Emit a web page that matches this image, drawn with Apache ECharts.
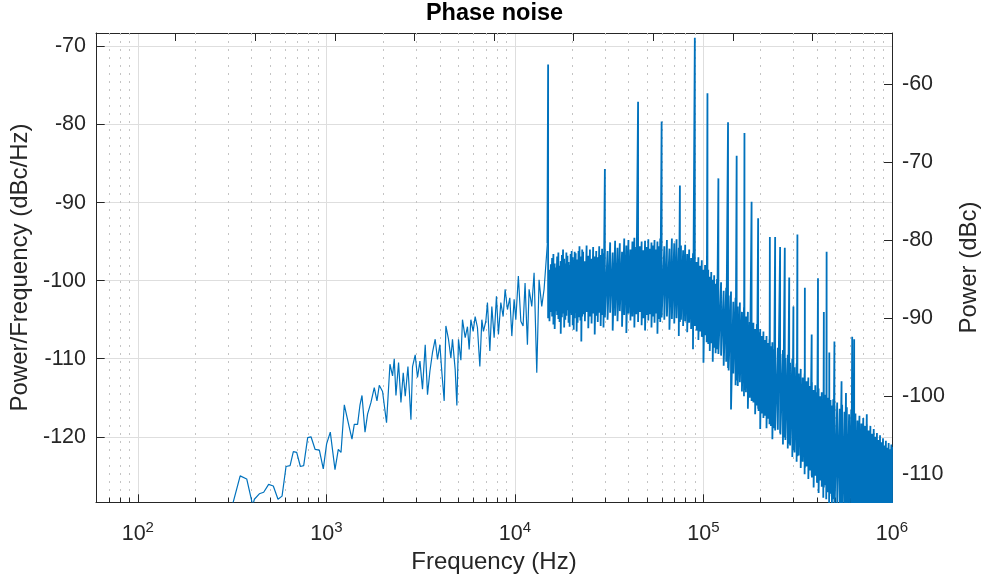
<!DOCTYPE html>
<html><head><meta charset="utf-8">
<script src="https://cdn.jsdelivr.net/npm/echarts@6/dist/echarts.min.js"></script>
<style>html,body{margin:0;padding:0;background:#fff}#c{width:989px;height:582px}</style>
</head><body><div id="c"></div>
<script>
// ---- data ----
// sparse low-frequency part: frequency (Hz) and PSD (dBc/Hz)
const sparseFreq = [300,349,378,407,415,441,465,494,523,554,582,611,642,668,696,728,758,796,829,871,918,963,
1003,1049,1111,1157,1196,1245,1323,1367,1406,1464,1508,1545,1603,1654,1724,1795,1855,1908,1986,
2085,2174,2244,2291,2339,2415,2486,2557,2620,2708,2809,2864,2959,3043,3135,3235,3344,3439,3541,3655,3777,3885,
4000,4099,4216,4304,4443,4575,4665,4822,4922,5020,5169,5271,5448,5602,5720,5840,6005,6153,6328,6516,6677,6809,
7011,7150,7362,7544,7759,7980,8177,8419,8660,8874,9127,9397,9630,9903,10110,10430,10750,11050,11320,11650,11890,
12290,12640,13060,13430,13880,14280,14870];
const sparseVal = [-131.0,-125.0,-125.4,-128.8,-128.0,-127.3,-127.1,-126.1,-126.3,-128.0,-127.6,-123.8,-123.7,-121.9,-122.0,-123.8,-123.7,-120.1,-120.0,-121.6,-121.7,-124.1,
-120.9,-119.4,-124.2,-121.6,-122.0,-115.9,-118.8,-120.3,-118.4,-118.4,-115.9,-114.7,-119.4,-117.1,-115.6,-113.7,-115.4,-113.4,-114.2,
-118.2,-110.7,-112.2,-110.0,-114.7,-110.5,-115.6,-111.8,-114.8,-111.0,-117.8,-111.0,-109.5,-112.4,-110.3,-113.9,-108.2,-114.6,-111.6,-109.2,-107.5,-110.1,
-108.2,-111.8,-115.4,-105.8,-107.5,-109.9,-107.5,-111.4,-116.0,-107.5,-110.2,-105.0,-107.3,-105.9,-108.8,-105.0,-106.5,-104.6,-106.0,-111.0,-105.0,-106.5,
-105.2,-102.8,-109.0,-103.3,-107.3,-102.0,-106.9,-102.8,-104.6,-101.1,-103.7,-102.2,-107.1,-102.4,-105.0,-99.4,-105.2,-105.8,-100.3,-108.2,-101.1,
-103.3,-99.0,-111.8,-99.9,-103.3,-101.1,-95.2];

// dense high-frequency part: frequency (kHz), upper and lower extent of the noise band (dBc/Hz)
const bandFreqK = [
15.0,15.25,15.5,15.75,16.0,16.25,16.5,16.75,17.0,17.25,17.5,17.75,18.0,18.25,18.5,18.75,19.0,19.25,19.5,19.75,20.0,20.25,20.5,20.75,21.0,21.25,21.5,21.75,22.0,22.25,22.5,22.75,
23.0,23.5,24.0,24.5,25.0,25.5,26.0,26.5,27.0,27.5,28.0,28.5,29.0,29.5,30.0,
31,32,33,34,35,36,37,38,39,40,41,42,43,44,45,46,47,48,49,50,51,52,53,54,55,56,57,58,59,60,
62,64,66,68,70,72,74,75,76,78,80,82,84,86,88,90,92,94,96,98,100,102,104,105,106,108,110,112,114,116,118,120,
124,128,132,135,136,140,144,148,150,152,156,160,164,165,168,172,176,180,184,188,192,195,196,200,204,208,212,216,220,224,225,228,232,236,240,
248,255,256,264,270,272,280,285,288,296,300,304,312,315,320,328,336,344,345,352,360,368,375,376,384,392,400,405,408,416,424,432,435,440,448,450,456,464,465,472,480,
488,495,496,512,528,540,544,560,570,576,592,608,615,624,630,640,656,672,688,704,720,735,736,752,768,784,800,816,832,848,864,880,896,912,928,944,960,976,992,1000];
const bandHi = [
-72.3,-98.6,-97.9,-97.1,-96.6,-97.8,-98.3,-96.9,-96.4,-98.1,-97.5,-96.7,-96.0,-97.2,-97.8,-96.4,-96.8,-97.6,-98.0,-96.6,-96.2,-97.0,-97.4,-96.3,-96.5,-97.3,-97.6,-96.2,-95.6,-97.1,-96.9,-96.0,
-96.3,-97.5,-95.5,-96.8,-96.0,-97.2,-95.7,-96.9,-96.2,-97.0,-95.6,-96.7,-95.9,-96.5,-85.7,
-96.2,-95.1,-96.4,-94.9,-95.8,-95.2,-96.3,-94.6,-95.5,-94.8,-96.0,-95.0,-94.5,-95.7,-77.1,-95.6,-95.0,-96.1,-94.9,-95.7,-94.7,-95.9,-95.1,-95.5,-94.8,-96.0,-95.0,-95.6,-94.6,-79.6,
-95.6,-94.8,-95.9,-94.6,-95.2,-94.7,-95.8,-87.8,-95.5,-96.1,-95.4,-96.6,-96.0,-97.1,-96.5,-68.9,-97.6,-97.0,-98.1,-97.4,-98.6,-98.0,-99.0,-76.0,-98.6,-99.5,-98.9,-99.9,-99.3,-100.4,-99.8,-86.9,
-100.2,-101.3,-100.9,-79.7,-101.9,-101.4,-102.7,-102.2,-84.0,-103.3,-102.8,-104.0,-103.4,-81.1,-104.6,-104.0,-105.3,-89.9,-105.4,-106.2,-105.6,-92.0,-106.6,-106.2,-107.1,-106.5,-107.6,-107.1,-108.0,-107.5,-94.4,-108.4,-107.9,-108.8,-94.4,
-108.6,-95.7,-109.4,-108.9,-95.8,-109.9,-109.5,-99.6,-110.5,-110.0,-103.3,-111.1,-110.6,-94.1,-111.9,-111.3,-112.4,-111.9,-100.9,-112.9,-112.4,-113.5,-106.9,-113.0,-114.0,-113.4,-114.3,-99.7,-113.8,-114.8,-114.3,-115.2,-104.0,-114.6,-115.4,-96.3,-115.0,-115.8,-109.2,-115.3,-116.0,
-115.2,-107.8,-116.0,-115.6,-116.4,-112.9,-115.9,-116.8,-114.4,-116.2,-117.1,-116.6,-107.2,-117.5,-107.5,-117.0,-117.9,-117.3,-118.3,-117.6,-118.6,-117.1,-118.4,-119.2,-118.6,-119.6,-119.0,-120.0,-119.5,-120.4,-119.8,-120.7,-120.2,-121.1,-120.5,-121.4,-120.8,-121.6,-121.0,-121.3];
const bandLo = [
-104.8,-105.2,-104.0,-104.6,-105.6,-106.2,-103.9,-104.4,-104.9,-105.3,-106.8,-104.7,-104.2,-106.0,-105.0,-104.5,-103.8,-105.4,-105.9,-104.1,-104.4,-105.7,-106.3,-104.8,-104.1,-106.5,-105.4,-104.3,-104.7,-105.1,-107.8,-104.6,
-104.3,-105.2,-104.0,-106.1,-104.6,-105.5,-104.2,-106.9,-104.5,-105.3,-104.1,-105.8,-104.4,-106.0,-104.7,
-105.0,-104.1,-106.4,-104.5,-105.2,-103.9,-105.9,-104.4,-106.7,-104.2,-105.1,-104.6,-106.0,-104.3,-105.3,-104.0,-105.7,-104.8,-106.4,-104.4,-105.1,-104.3,-106.0,-104.6,-105.4,-104.2,-106.8,-104.9,-105.3,-104.7,
-105.0,-104.6,-106.3,-104.9,-105.5,-104.8,-107.1,-105.3,-105.0,-105.8,-105.2,-106.6,-105.4,-106.2,-108.8,-105.8,-106.4,-107.6,-106.5,-107.2,-110.5,-107.0,-107.9,-107.3,-108.1,-109.0,-108.0,-110.4,-108.6,-109.3,-108.8,-109.4,
-109.6,-110.9,-110.4,-111.2,-111.5,-116.5,-111.9,-113.4,-112.8,-113.5,-113.0,-114.2,-114.8,-114.0,-114.3,-116.4,-115.0,-115.4,-115.6,-117.1,-116.0,-116.4,-116.7,-119.0,-117.0,-117.6,-117.3,-118.9,-117.7,-118.4,-118.1,-118.6,-120.3,-118.9,-119.2,
-119.1,-119.5,-119.7,-121.0,-120.1,-120.4,-121.5,-120.9,-121.1,-122.6,-121.7,-122.0,-123.2,-122.5,-122.4,-124.0,-123.2,-124.8,-124.0,-123.8,-125.4,-124.3,-125.0,-125.2,-126.5,-125.0,-125.9,-125.3,-127.2,-125.6,-126.4,-127.8,-126.5,-126.2,-128.0,-126.9,-127.1,-128.6,-127.6,-127.3,-128.8,
-128.0,-128.9,-129.2,-128.6,-130.0,-129.0,-130.5,-130.0,-130.5,-131.0,-130.0,-131.0,-130.0,-131.0,-130.0,-131.0,-130.0,-131.0,-130.0,-131.0,-130.0,-131.0,-130.0,-131.0,-130.0,-131.0,-130.0,-131.0,-130.0,-131.0,-130.0,-131.0,-130.0,-131.0,-130.0,-131.0,-130.0,-131.0,-130.0,-131.0];

// axes
const xTickExps = [2, 3, 4, 5, 6];
const minorMult = [2, 3, 4, 5, 6, 7, 8, 9];
const minorDecades = [10, 100, 1000, 10000, 100000];
const leftTicks = [-120, -110, -100, -90, -80, -70];
const rightTicks = [-110, -100, -90, -80, -70, -60];

if (sparseFreq.length !== sparseVal.length) throw new Error('sparse mismatch ' + sparseFreq.length + ' ' + sparseVal.length);
if (bandFreqK.length !== bandHi.length || bandFreqK.length !== bandLo.length)
  throw new Error('band mismatch ' + bandFreqK.length + ' ' + bandHi.length + ' ' + bandLo.length);

const sparseData = [];
for (let i = 0; i < sparseFreq.length; i++) sparseData.push([sparseFreq[i], sparseVal[i]]);
// dense part continues the same trace from the last sparse reading
const bandData = [[sparseFreq[sparseFreq.length - 1], sparseVal[sparseVal.length - 1]]];
for (let i = 0; i < bandFreqK.length; i++) {
  const f = bandFreqK[i] * 1000;
  bandData.push([f, bandHi[i]]);
  bandData.push([f, bandLo[i]]);
}

const minorData = [];
minorDecades.forEach(d => minorMult.forEach(m => { const f = d * m; if (f > 61 && f < 1e6) minorData.push([f, -100]); }));

const FONT = '"Liberation Sans", Arial, Helvetica, sans-serif';
const TXT = '#262626';
const BLUE = '#0072BD';

const chart = echarts.init(document.getElementById('c'), null, {renderer: 'canvas'});
chart.setOption({
  animation: false,
  backgroundColor: '#ffffff',
  textStyle: {fontFamily: FONT},
  title: {
    text: 'Phase noise', left: 'center', top: 2, padding: 0,
    textStyle: {fontFamily: FONT, fontSize: 23.5, fontWeight: 'bold', color: '#000000'}
  },
  grid: {left: 96, right: 96, top: 33, bottom: 80, containLabel: false},
  xAxis: [{
    type: 'log', logBase: 10, min: 60, max: 1e6, position: 'bottom',
    name: 'Frequency (Hz)', nameLocation: 'middle', nameGap: 47,
    nameTextStyle: {fontFamily: FONT, fontSize: 24, color: TXT},
    axisLine: {show: true, onZero: false, lineStyle: {color: TXT, width: 1}},
    axisTick: {show: true, inside: true, length: 7.7, interval: 0, lineStyle: {color: TXT, width: 1}},
    minorTick: {show: false}, minorSplitLine: {show: false},
    splitLine: {show: true, interval: 0, lineStyle: {color: '#dedede', width: 1}},
    axisLabel: {
      show: true, interval: 0, margin: 17, showMinLabel: true, showMaxLabel: true,
      formatter: function (v) {
        const e = Math.log10(v), r = Math.round(e);
        return (Math.abs(e - r) < 1e-6 && xTickExps.indexOf(r) >= 0) ? '{b|10}{s|' + r + '}' : '';
      },
      rich: {
        b: {fontFamily: FONT, fontSize: 21.5, color: TXT, lineHeight: 26, verticalAlign: 'bottom'},
        s: {fontFamily: FONT, fontSize: 15, color: TXT, lineHeight: 15, verticalAlign: 'bottom', padding: [0, 0, 10, 0]}
      }
    }
  }, {
    type: 'value', min: 0, max: 10, interval: 1, position: 'top',
    axisLine: {show: true, onZero: false, lineStyle: {color: TXT, width: 1}},
    axisTick: {show: true, inside: true, length: 8, lineStyle: {color: TXT, width: 1}},
    axisLabel: {show: false}, splitLine: {show: false}
  }],
  yAxis: [{
    type: 'value', min: -128.35, max: -68.28, position: 'left',
    name: 'Power/Frequency (dBc/Hz)', nameLocation: 'middle', nameRotate: 90, nameGap: 57,
    nameTextStyle: {fontFamily: FONT, fontSize: 24, color: TXT},
    axisLine: {show: true, onZero: false, lineStyle: {color: TXT, width: 1}},
    axisTick: {show: true, inside: true, length: 8.7, lineStyle: {color: TXT, width: 1}},
    splitLine: {show: true, lineStyle: {color: '#dedede', width: 1}},
    axisLabel: {
      margin: 10, color: TXT, fontSize: 21.5, fontFamily: FONT,
      formatter: function (v) { const r = Math.round(v); return (Math.abs(v - r) < 1e-6 && leftTicks.indexOf(r) >= 0) ? String(r) : ''; }
    }
  }, {
    type: 'value', min: -113.55, max: -53.48, position: 'right',
    name: 'Power (dBc)', nameLocation: 'middle', nameRotate: 90, nameGap: 65,
    nameTextStyle: {fontFamily: FONT, fontSize: 24, color: TXT},
    axisLine: {show: true, onZero: false, lineStyle: {color: TXT, width: 1}},
    axisTick: {show: true, inside: true, length: 8, lineStyle: {color: TXT, width: 1}},
    splitLine: {show: false},
    axisLabel: {
      margin: 10, color: TXT, fontSize: 21.5, fontFamily: FONT,
      formatter: function (v) { const r = Math.round(v); return (Math.abs(v - r) < 1e-6 && rightTicks.indexOf(r) >= 0) ? String(r) : ''; }
    }
  }],
  series: [{
    type: 'custom', xAxisIndex: 0, yAxisIndex: 0, z: 1, silent: true,
    data: minorData,
    renderItem: function (params, api) {
      const cs = params.coordSys;
      const x = Math.round(api.coord([api.value(0), api.value(1)])[0]) + 0.5;
      const yb = cs.y + cs.height;
      return {
        type: 'group',
        children: [
          {type: 'line', shape: {x1: x, y1: cs.y, x2: x, y2: yb}, style: {stroke: '#c4c4c4', lineWidth: 1, lineDash: [2, 6]}},
          {type: 'line', shape: {x1: x, y1: yb, x2: x, y2: yb - 4.3}, style: {stroke: TXT, lineWidth: 1}}
        ]
      };
    }
  }, {
    type: 'line', xAxisIndex: 0, yAxisIndex: 0, z: 3, data: sparseData,
    symbol: 'none', showSymbol: false, clip: true, sampling: null,
    lineStyle: {color: BLUE, width: 1.2}, itemStyle: {color: BLUE},
    emphasis: {disabled: true}, silent: true
  }, {
    type: 'line', xAxisIndex: 0, yAxisIndex: 0, z: 3, data: bandData,
    symbol: 'none', showSymbol: false, clip: true, sampling: null,
    lineStyle: {color: BLUE, width: 1.8, join: 'miter', miterLimit: 2}, itemStyle: {color: BLUE},
    emphasis: {disabled: true}, silent: true
  }]
});
</script></body></html>
